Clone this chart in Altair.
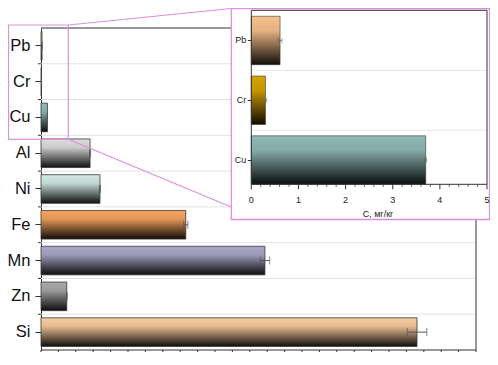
import altair as alt
import pandas as pd

# ---------------- data ----------------
main_elements = ["Pb", "Cr", "Cu", "Al", "Ni", "Fe", "Mn", "Zn", "Si"]
main_values = [0.61, 0.30, 3.70, 28.2, 33.9, 83.2, 128.7, 14.8, 216.1]
main_errors = [0.04, 0.03, 0.02, 0.3, 0.3, 1.2, 2.7, 0.3, 5.6]
main_colors = ["#f7c08c", "#d6a200", "#8fbab6", "#dcdcdc", "#d2e9e4",
               "#f5a35e", "#a9a7c7", "#a8a8a8", "#f7cb9e"]

inset_elements = ["Pb", "Cr", "Cu"]
inset_values = [0.61, 0.30, 3.70]
inset_errors = [0.04, 0.03, 0.02]
inset_colors = ["#f7c08c", "#d6a200", "#8fbab6"]

main_major_ticks = [0, 50, 100, 150, 200, 250]
main_minor_ticks = [10, 20, 30, 40, 60, 70, 80, 90, 110, 120, 130, 140,
                    160, 170, 180, 190, 210, 220, 230, 240]
main_boundaries = [1, 2, 3, 4, 5, 6, 7, 8]
inset_major_ticks = [0, 1, 2, 3, 4, 5]
inset_tick_labels = ["0", "1", "2", "3", "4", "5"]
inset_minor_ticks = [0.2, 0.4, 0.6, 0.8, 1.2, 1.4, 1.6, 1.8, 2.2, 2.4, 2.6, 2.8,
                     3.2, 3.4, 3.6, 3.8, 4.2, 4.4, 4.6, 4.8]
inset_boundaries = [1, 2]
inset_title = "С, мг/кг"

# ---------------- tables ----------------
main_df = pd.DataFrame({"element": main_elements, "value": main_values,
                        "err": main_errors, "color": main_colors})
main_df["lo"] = main_df["value"] - main_df["err"]
main_df["hi"] = main_df["value"] + main_df["err"]

inset_df = pd.DataFrame({"element": inset_elements, "value": inset_values,
                         "err": inset_errors, "color": inset_colors})
inset_df["lo"] = inset_df["value"] - inset_df["err"]
inset_df["hi"] = inset_df["value"] + inset_df["err"]

one = pd.DataFrame({"k": [0]})

W, H = 435, 322
PINK = "#df8fdf"
AX = "#333333"
FONT = "Liberation Sans"

shade = alt.Gradient(
    gradient="linear", x1=0, x2=0, y1=0, y2=1,
    stops=[alt.GradientStop(offset=0, color="rgba(0,0,0,0)"),
           alt.GradientStop(offset=0.3, color="rgba(0,0,0,0.08)"),
           alt.GradientStop(offset=1, color="rgba(0,0,0,0.93)")])

hidden_x_axis = alt.Axis(orient="bottom", title=None, labels=False, ticks=False, domain=False, grid=False)

# ---------------- main grid ----------------
gy = alt.Y("b:Q", scale=alt.Scale(domain=[0, 9], range=[0, H], nice=False, zero=False), axis=None)
grid_main = alt.layer(
    alt.Chart(pd.DataFrame({"b": main_boundaries})).mark_rule(color="#e3e3e3", strokeWidth=1).encode(y=gy),
    alt.Chart(pd.DataFrame({"b": main_boundaries})).mark_rule(color=AX, strokeWidth=1).encode(
        y=gy, x=alt.value(-3), x2=alt.value(0)),
)

borders = alt.layer(
    alt.Chart(one).mark_rule(color=AX, strokeWidth=1).encode(x=alt.value(0), x2=alt.value(W), y=alt.value(0)),
    alt.Chart(one).mark_rule(color=AX, strokeWidth=1).encode(x=alt.value(W), y=alt.value(0), y2=alt.value(H)),
    alt.Chart(one).mark_rule(color=AX, strokeWidth=1).encode(x=alt.value(0), x2=alt.value(W), y=alt.value(H)),
)

# ---------------- main bars ----------------
x_main = alt.X("value:Q", scale=alt.Scale(domain=[0, 250], nice=False, zero=True), axis=hidden_x_axis)
y_main = alt.Y("element:N", scale=alt.Scale(domain=main_elements, paddingInner=0.2, paddingOuter=0.1),
               axis=alt.Axis(orient="left", title=None, labelFontSize=16.5, labelColor="#111111",
                             labelPadding=5, tickSize=6, tickColor=AX, domainColor=AX, grid=False,
                             labelAngle=0))

main_layer = alt.layer(
    alt.Chart(main_df).mark_bar().encode(x=x_main, y=y_main, color=alt.Color("color:N", scale=None)),
    alt.Chart(main_df).mark_bar(fill=shade, stroke="#3a3a3a", strokeWidth=0.8).encode(
        x="value:Q", y="element:N"),
    alt.Chart(main_df).mark_rule(color="#555555", strokeWidth=1).encode(x="lo:Q", x2="hi:Q", y="element:N"),
    alt.Chart(main_df).mark_tick(color="#555555", size=8, thickness=1).encode(x="lo:Q", y="element:N"),
    alt.Chart(main_df).mark_tick(color="#555555", size=8, thickness=1).encode(x="hi:Q", y="element:N"),
    alt.Chart(pd.DataFrame({"t": main_major_ticks})).mark_rule(color=AX, strokeWidth=1).encode(
        x="t:Q", y=alt.value(H), y2=alt.value(H + 9)),
    alt.Chart(pd.DataFrame({"t": main_minor_ticks})).mark_rule(color=AX, strokeWidth=1).encode(
        x="t:Q", y=alt.value(H), y2=alt.value(H + 5)),
)

# ---------------- zoom decorations ----------------
small_box = alt.Chart(one).mark_rect(fill="white", fillOpacity=0, stroke=PINK, strokeWidth=1.2).encode(
    x=alt.value(-32.5), x2=alt.value(27.3), y=alt.value(-3), y2=alt.value(111.3))
conn_top = alt.Chart(one).mark_rule(color=PINK, strokeWidth=1.1).encode(
    x=alt.value(27.3), y=alt.value(-3), x2=alt.value(190.3), y2=alt.value(-19.5))
conn_bot = alt.Chart(one).mark_rule(color=PINK, strokeWidth=1.1).encode(
    x=alt.value(27.3), y=alt.value(111.3), x2=alt.value(190.3), y2=alt.value(179))
inset_box = alt.Chart(one).mark_rect(fill="white", stroke=PINK, strokeWidth=1.3).encode(
    x=alt.value(190.3), x2=alt.value(448.5), y=alt.value(-19.5), y2=alt.value(191.5))

# ---------------- inset ----------------
IX0, IX1 = 210.3, 446.0
IY0, IY1 = -17.7, 156.3
BAND0, BAND1 = -17.4, 161.9

inset_grid = alt.Chart(pd.DataFrame({"b": inset_boundaries})).mark_rule(color="#e6e6e6", strokeWidth=1).encode(
    y=alt.Y("b:Q", scale=alt.Scale(domain=[0, 3], range=[BAND0, BAND1], nice=False, zero=False), axis=None),
    x=alt.value(IX0), x2=alt.value(IX1))

x_in = alt.X("value:Q", scale=alt.Scale(domain=[0, 5], range=[IX0, IX1], nice=False, zero=True),
             axis=hidden_x_axis)
y_in = alt.Y("element:N", scale=alt.Scale(domain=inset_elements, range=[BAND0, BAND1],
                                          paddingInner=0.19, paddingOuter=0.095),
             axis=alt.Axis(orient="left", offset=-IX0, title=None, labelFontSize=9, labelColor="#222222",
                           tickSize=4, tickColor=AX, labelPadding=1.5, domain=False, zindex=1,
                           grid=False, labelAngle=0))

inset_ticks_df = pd.DataFrame({"t": inset_major_ticks, "label": inset_tick_labels})

inset_layer = alt.layer(
    alt.Chart(inset_df).mark_bar().encode(x=x_in, y=y_in, color=alt.Color("color:N", scale=None)),
    alt.Chart(inset_df).mark_bar(fill=shade, stroke="#3a3a3a", strokeWidth=0.6).encode(
        x="value:Q", y="element:N"),
    alt.Chart(inset_df).mark_rule(color="#666666", strokeWidth=0.8).encode(x="lo:Q", x2="hi:Q", y="element:N"),
    alt.Chart(inset_df).mark_tick(color="#666666", size=5, thickness=0.8).encode(x="lo:Q", y="element:N"),
    alt.Chart(inset_df).mark_tick(color="#666666", size=5, thickness=0.8).encode(x="hi:Q", y="element:N"),
    alt.Chart(pd.DataFrame({"m": inset_minor_ticks})).mark_rule(color=AX, strokeWidth=0.8).encode(
        x="m:Q", y=alt.value(IY1), y2=alt.value(IY1 + 2.5)),
    alt.Chart(inset_ticks_df).mark_rule(color=AX, strokeWidth=1).encode(
        x="t:Q", y=alt.value(IY1), y2=alt.value(IY1 + 5)),
    alt.Chart(inset_ticks_df).mark_text(fontSize=9, font=FONT, color="#222222", baseline="middle",
                                        align="center").encode(
        x="t:Q", y=alt.value(IY1 + 15.5), text="label:N"),
)

inset_frame = alt.Chart(one).mark_rect(fill="white", fillOpacity=0, stroke=AX, strokeWidth=1).encode(
    x=alt.value(IX0), x2=alt.value(IX1), y=alt.value(IY0), y2=alt.value(IY1))
inset_title_mark = alt.Chart(one).mark_text(fontSize=9, font=FONT, color="#222222", baseline="middle",
                                            align="center").encode(
    x=alt.value(337), y=alt.value(IY1 + 29.5), text=alt.value(inset_title))

chart = alt.layer(
    grid_main, borders, main_layer, small_box, conn_top, conn_bot,
    inset_box, inset_grid, inset_layer, inset_frame, inset_title_mark,
).resolve_scale(x="independent", y="independent").properties(
    width=W, height=H,
    padding={"left": 33, "top": 20, "right": 14, "bottom": 2},
    autosize=alt.AutoSizeParams(type="none"),
).configure_axis(labelFont=FONT, titleFont=FONT).configure_view(stroke="transparent")

chart.save("out.html", embed_options={"renderer": "svg", "actions": False})
